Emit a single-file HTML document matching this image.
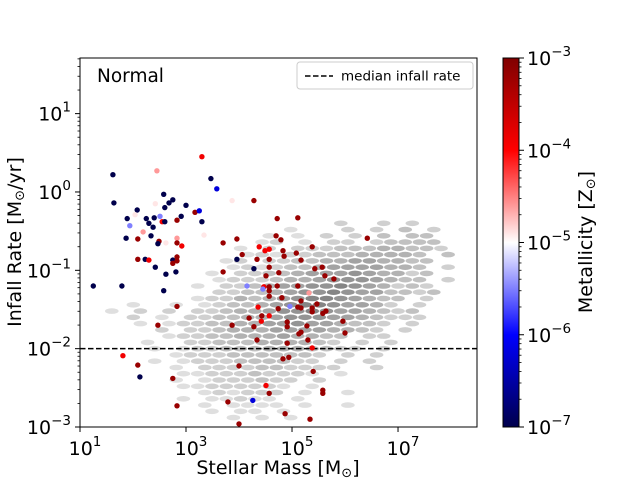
<!DOCTYPE html>
<html><head><meta charset="utf-8"><style>
html,body{margin:0;padding:0;background:#fff;}
svg{display:block;font-family:"DejaVu Sans","Liberation Sans",sans-serif;}
</style></head><body>
<svg id="chart" width="640" height="480" viewBox="0 0 640 480" xmlns="http://www.w3.org/2000/svg">
<defs>
<linearGradient id="seis" x1="0" y1="1" x2="0" y2="0">
<stop offset="0" stop-color="#00004c"/><stop offset="0.25" stop-color="#0000ff"/><stop offset="0.5" stop-color="#ffffff"/><stop offset="0.75" stop-color="#ff0000"/><stop offset="1" stop-color="#800000"/>
</linearGradient>
<clipPath id="clip"><rect x="80" y="58" width="397" height="369"/></clipPath>
</defs>
<g id="hexes" clip-path="url(#clip)"></g>
<line id="median" x1="80" x2="477" stroke="#000" stroke-width="1.5" stroke-dasharray="5.5,2.5"/>
<g id="points" clip-path="url(#clip)"></g>
<rect x="80" y="58" width="397" height="369" fill="none" stroke="#000" stroke-width="1"/>
<g id="axes"></g>
<text x="97" y="82" font-size="18.5">Normal</text>
<g>
<rect x="297" y="62" width="176" height="27" rx="3" fill="#fff" stroke="#ccc"/>
<line x1="305" x2="333" y1="76" y2="76" stroke="#000" stroke-width="1.5" stroke-dasharray="5.5,2.5"/>
<text x="341" y="80.5" font-size="13.5">median infall rate</text>
</g>
<text x="278" y="474" font-size="19" text-anchor="middle">Stellar Mass [M<tspan font-size="13" dy="3">⊙</tspan><tspan dy="-3">]</tspan></text>
<text transform="translate(21,242) rotate(-90)" font-size="19" text-anchor="middle">Infall Rate [M<tspan font-size="13" dy="3">⊙</tspan><tspan dy="-3">/yr]</tspan></text>
<rect x="503" y="58" width="16" height="369" fill="url(#seis)" stroke="#000" stroke-width="1"/>
<g id="cbaxis"></g>
<text transform="translate(592,242) rotate(-90)" font-size="19" text-anchor="middle">Metallicity [Z<tspan font-size="13" dy="3">⊙</tspan><tspan dy="-3">]</tspan></text>
</svg>
<script>
const xTickExp=[1,3,5,7];
const yTickExp=[-3,-2,-1,0,1];
const cbTickExp=[-7,-6,-5,-4,-3];
const medianLogRate=-2;
const hexM0=1.6, hexDM=0.27, hexR0=-0.4, hexDR=-0.08;
const hexRows=[
"................2..2.2..",
"............1...2.2.3.2.",
"...........1.1.2.2.3.33.",
"..........12.1.22.23333.",
".........1.2.22233344332",
".........1212233344443.3",
"........12.223344554433.",
"........12123345555443.2",
".......1.22334555654423.",
".......122234456665433.2",
"......1.223455667654232.",
".......2233456676553323.",
"......122434567765433.2.",
".1..1.12334567765542.2..",
"1.2.2.2234456676554323..",
".2.1.22334456665543222..",
"..1.1223344556554332.2..",
"...2.22344455554432.2...",
"....1223344454433.22....",
"..1..22333444432.2.2....",
"...1.1223334443322.2....",
"....12223333332.2.2.....",
"...1.1222333322.2.2.....",
"....1.2222332222..2.....",
".....1122232221.1.......",
"....1.1222322.2.........",
".....11222221.1.........",
"......121222.1..1.......",
".....1.11211.1..........",
"......1.1111.1..1.......",
".......1.11.1...........",
"........1.1.1..........."];
const ptM=[3.30,2.45,3.47,3.58,1.64,2.58,2.42,2.68,2.75,3.00,2.60,3.87,4.28,2.08,2.04,3.17,3.25,1.89,2.25,2.40,2.51,2.91,2.30,2.38,2.55,2.60,2.83,3.30,1.94,4.72,2.19,1.87,2.09,2.34,2.49,2.47,2.62,2.83,2.83,2.92,3.34,3.70,3.96,4.70,4.38,4.57,4.49,2.09,2.23,2.30,2.75,2.83,2.75,2.83,2.42,2.62,2.81,3.96,4.06,4.34,4.57,4.28,4.57,3.70,1.79,2.58,4.15,4.47,4.57,4.72,5.11,4.79,4.83,4.85,5.08,5.17,5.38,4.75,5.43,5.57,5.62,5.79,6.42,4.51,4.45,5.11,5.32,4.57,4.57,4.81,5.17,4.96,5.11,5.17,5.38,5.47,5.64,5.58,4.36,4.74,5.38,4.19,4.43,4.57,4.42,3.87,4.28,4.91,4.91,5.28,5.17,5.13,6.00,5.96,5.30,4.34,4.91,5.38,4.94,4.83,4.00,5.40,4.51,4.57,5.58,5.58,4.26,4.87,5.34,4.00,1.62,1.25,2.83,2.47,1.81,2.09,2.13,2.75,2.83,3.79];
const ptR=[0.45,0.27,0.17,0.04,-0.14,-0.03,-0.15,-0.14,-0.10,-0.17,-0.20,-0.11,-0.11,-0.23,-0.29,-0.26,-0.24,-0.34,-0.34,-0.33,-0.31,-0.31,-0.40,-0.45,-0.38,-0.38,-0.36,-0.38,-0.43,-0.34,-0.51,-0.59,-0.60,-0.56,-0.63,-0.66,-0.65,-0.59,-0.65,-0.69,-0.55,-0.65,-0.60,-0.56,-0.70,-0.73,-0.75,-0.86,-0.86,-0.87,-0.87,-0.83,-0.91,-0.88,-0.96,-1.05,-1.02,-0.86,-0.80,-0.86,-0.86,-0.98,-0.96,-1.02,-1.20,-1.26,-1.20,-1.21,-1.21,-1.20,-0.33,-0.61,-0.75,-0.82,-0.78,-0.87,-0.70,-1.03,-0.98,-0.96,-1.07,-1.11,-0.59,-1.07,-1.24,-1.20,-1.29,-1.26,-1.33,-1.35,-1.39,-1.46,-1.47,-1.48,-1.48,-1.43,-1.52,-1.55,-1.47,-1.49,-1.53,-1.61,-1.58,-1.58,-1.65,-1.70,-1.72,-1.66,-1.72,-1.71,-1.79,-1.81,-1.80,-1.65,-1.89,-1.89,-1.93,-1.99,-2.11,-2.13,-2.22,-2.29,-2.47,-2.57,-2.53,-2.57,-2.66,-2.83,-2.90,-2.96,0.22,-1.20,-1.46,-1.70,-2.09,-2.21,-2.36,-2.38,-2.73,-2.68];
const ptZ=[-3.9,-4.6,-7,-6.2,-7,-7,-4.9,-7,-7,-7,-7,-4.9,-3.2,-7,-4.9,-3.2,-6.2,-7,-7,-7,-5.5,-7,-7,-7,-3.9,-7,-3.2,-7,-5.5,-3.2,-4.6,-7,-3.2,-7,-3.2,-7,-4.9,-4.6,-3.2,-3.9,-4.9,-3.2,-3.2,-3.2,-3.9,-3.9,-3.9,-3.2,-7,-3.9,-7,-3.2,-3.2,-3.2,-7,-7,-7,-7,-3.2,-3.2,-3.2,-7,-3.2,-3.2,-7,-7,-5.5,-3.9,-3.2,-3.2,-3.2,-3.2,-3.2,-3.2,-3.2,-3.2,-3.2,-3.2,-3.2,-3.2,-3.2,-3.2,-3.2,-3.2,-5.5,-3.2,-4.6,-3.2,-3.2,-3.2,-3.2,-5.5,-3.2,-3.2,-3.2,-3.2,-3.2,-3.2,-3.9,-3.2,-3.2,-3.2,-3.2,-3.9,-3.9,-3.2,-3.2,-3.2,-3.2,-3.2,-3.2,-3.2,-3.2,-3.2,-3.2,-3.2,-3.2,-3.9,-3.2,-3.2,-3.2,-3.2,-3.9,-3.2,-3.2,-3.2,-6.2,-3.2,-3.2,-3.2,-7,-7,-3.2,-3.2,-3.9,-3.2,-7,-3.2,-3.2,-3.2];

const NS="http://www.w3.org/2000/svg";
const X0=80,X1=477,Y0=427,Y1=58;
const xmin=1,xmax=8.49,ymin=-3,ymax=1.71;
function xs(m){return X0+(m-xmin)/(xmax-xmin)*(X1-X0);}
function ys(r){return Y0-(r-ymin)/(ymax-ymin)*(Y0-Y1);}
function cbY(z){return 427-(z+7)/4*369;}
function mk(tag,attrs,parent){const e=document.createElementNS(NS,tag);for(const k in attrs)e.setAttribute(k,attrs[k]);parent.appendChild(e);return e;}
function seismic(z){
  const t=Math.max(0,Math.min(1,(z+7)/4));
  const st=[[0,0,0,76],[0.25,0,0,255],[0.5,255,255,255],[0.75,255,0,0],[1,128,0,0]];
  for(let i=0;i<4;i++){if(t<=st[i+1][0]){const f=(t-st[i][0])/(st[i+1][0]-st[i][0]);
    const c=[1,2,3].map(j=>Math.round(st[i][j]+f*(st[i+1][j]-st[i][j])));return `rgb(${c[0]},${c[1]},${c[2]})`;}}
  return "rgb(128,0,0)";
}
const hexG=document.getElementById('hexes');
hexRows.forEach((row,ri)=>{
  const r=hexR0+ri*hexDR;
  for(let ci=0;ci<row.length;ci++){
    const ch=row[ci]; if(ch==='.')continue;
    const d=+ch;
    const m=hexM0+ci*hexDM+(ri%2?hexDM/2:0);
    const cx=xs(m),cy=ys(r),g=Math.round(238-d*15);
    const e=mk('ellipse',{cx:cx.toFixed(1),cy:cy.toFixed(1),rx:6.8,ry:2.8,fill:`rgb(${g},${g},${g})`},hexG);
    
    
  }
});
const med=document.getElementById('median');
med.setAttribute('y1',ys(medianLogRate));med.setAttribute('y2',ys(medianLogRate));
const ptG=document.getElementById('points');
for(let i=0;i<ptM.length;i++){
  const c=mk('circle',{cx:xs(ptM[i]).toFixed(1),cy:ys(ptR[i]).toFixed(1),r:2.7,fill:seismic(ptZ[i])},ptG);
  
  
}
const ax=document.getElementById('axes');
function expLabel(parent,x,y,exp,anchor,name){
  const t=mk('text',{x:x,y:y,'font-size':19,'text-anchor':anchor},parent);
  
  
  t.innerHTML=`10<tspan font-size="13.5" dy="-9">${String(exp).replace('-','−')}</tspan>`;
}
xTickExp.forEach(e=>{const x=xs(e);
  const l=mk('line',{x1:x,x2:x,y1:427,y2:432,stroke:'#000'},ax);
  
  
  expLabel(ax,x+5,455,e,'middle','x-tick-label');});
yTickExp.forEach(e=>{const y=ys(e);
  const l=mk('line',{x1:75,x2:80,y1:y,y2:y,stroke:'#000'},ax);
  
  
  expLabel(ax,71,y+7,e,'end','y-tick-label');
  for(let k=2;k<10;k++){const ym=ys(e+Math.log10(k));if(ym<58)continue;
    const n=mk('line',{x1:77.5,x2:80,y1:ym,y2:ym,stroke:'#000','stroke-width':0.8},ax);
    
    }
});
const cb=document.getElementById('cbaxis');
cbTickExp.forEach(e=>{const y=cbY(e);
  const l=mk('line',{x1:519,x2:524,y1:y,y2:y,stroke:'#000'},cb);
  
  
  expLabel(cb,527,y+7,e,'start','colorbar-tick-label');
  if(e<-3)for(let k=2;k<10;k++){const ym=cbY(e+Math.log10(k));
    const n=mk('line',{x1:519,x2:521.5,y1:ym,y2:ym,stroke:'#000','stroke-width':0.8},cb);
    
    }
});
</script>
</body></html>
